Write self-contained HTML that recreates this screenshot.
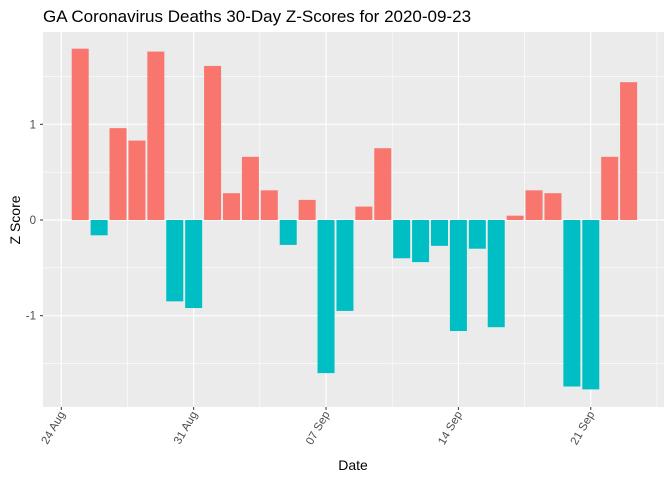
<!DOCTYPE html>
<html><head><meta charset="utf-8"><style>
body{margin:0;background:#fff;font-family:"Liberation Sans",Arial,sans-serif}
svg text{font-family:"Liberation Sans",Arial,sans-serif}
</style></head><body>
<svg id="chart" width="672" height="480">
<text x="43" y="22" font-size="17" fill="#000">GA Coronavirus Deaths 30-Day Z-Scores for 2020-09-23</text>
<rect x="43" y="32" width="621" height="375" fill="#EBEBEB"/>
<g id="grid"></g><g id="bars"></g><g id="axes"></g>
<text x="0" y="0" transform="translate(20,220) rotate(-90)" text-anchor="middle" font-size="14" fill="#000">Z Score</text>
<text x="353" y="470" text-anchor="middle" font-size="14" fill="#000">Date</text>
</svg>
<script>
const values=[1.79,-0.16,0.96,0.83,1.76,-0.85,-0.92,1.61,0.28,0.66,0.31,-0.26,0.21,-1.60,-0.95,0.14,0.75,-0.40,-0.44,-0.27,-1.16,-0.30,-1.12,0.045,0.31,0.28,-1.74,-1.77,0.66,1.44];
const yTicks=[-1,0,1];
const xTickLabels=["24 Aug","31 Aug","07 Sep","14 Sep","21 Sep"];
const xTickDays=[0,7,14,21,28];
const NS="http://www.w3.org/2000/svg";
const x=d=>61.3+d*18.91; // days since 24 Aug
const y=v=>220-v*95.7;
const g=document.getElementById('grid'),b=document.getElementById('bars'),a=document.getElementById('axes');
function mk(p,t,at){const e=document.createElementNS(NS,t);for(const k in at)e.setAttribute(k,at[k]);p.appendChild(e);return e;}
[-1.5,-0.5,0.5,1.5].forEach(v=>{const e=mk(g,'line',{x1:43,x2:664,y1:y(v),y2:y(v),stroke:'#fff','stroke-width':0.6});

});
xTickDays.concat([35]).forEach(d=>{const e=mk(g,'line',{x1:x(d-3.5),x2:x(d-3.5),y1:32,y2:407,stroke:'#fff','stroke-width':0.6});

});
yTicks.forEach(v=>{const e=mk(g,'line',{x1:43,x2:664,y1:y(v),y2:y(v),stroke:'#fff','stroke-width':1.2});


const t=mk(a,'text',{x:36,y:y(v)+4,'text-anchor':'end','font-size':11.5,fill:'#4D4D4D'});t.textContent=v;


const k=mk(a,'line',{x1:40,x2:43,y1:y(v),y2:y(v),stroke:'#333'});

});
xTickDays.forEach((d,i)=>{const e=mk(g,'line',{x1:x(d),x2:x(d),y1:32,y2:407,stroke:'#fff','stroke-width':1.2});


const k=mk(a,'line',{x1:x(d),x2:x(d),y1:407,y2:410,stroke:'#333'});


const t=mk(a,'text',{x:0,y:0,transform:`translate(${x(d)+4},${414}) rotate(-60)`,'text-anchor':'end','font-size':11.5,fill:'#4D4D4D'});
t.textContent=xTickLabels[i];

});
values.forEach((v,i)=>{const cx=x(i+1),w=17;const r=mk(b,'rect',{x:cx-w/2,y:Math.min(y(v),y(0)),width:w,height:Math.abs(y(v)-y(0)),fill:v>=0?'#F8766D':'#00BFC4'});

});
</script>
</body></html>
